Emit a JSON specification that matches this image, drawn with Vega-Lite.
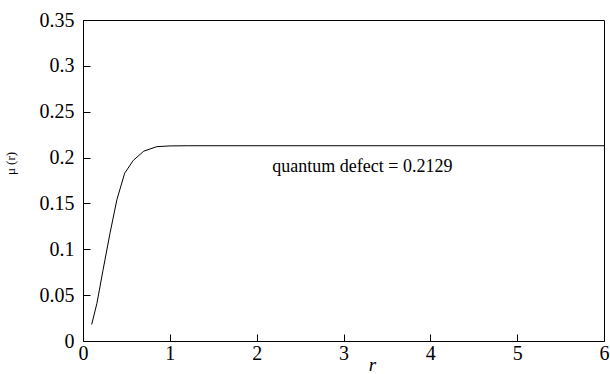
{
  "$schema": "https://vega.github.io/schema/vega-lite/v6.json",
  "width": 521,
  "height": 321,
  "autosize": {"type": "none"},
  "padding": {"left": 83, "top": 20, "right": 6, "bottom": 33},
  "background": "white",
  "config": {
    "view": {"stroke": "black", "strokeWidth": 1},
    "font": "Liberation Serif, Times New Roman, serif"
  },
  "layer": [
    {
      "data": {"values": [
        {"r": 0.1, "mu": 0.018},
        {"r": 0.16, "mu": 0.041},
        {"r": 0.23, "mu": 0.077},
        {"r": 0.31, "mu": 0.117},
        {"r": 0.39, "mu": 0.154},
        {"r": 0.48, "mu": 0.183},
        {"r": 0.58, "mu": 0.197},
        {"r": 0.7, "mu": 0.207},
        {"r": 0.85, "mu": 0.2119},
        {"r": 1.0, "mu": 0.2127},
        {"r": 1.2, "mu": 0.2129},
        {"r": 6.0, "mu": 0.2129}
      ]},
      "mark": {"type": "line", "color": "black", "strokeWidth": 1, "clip": true},
      "encoding": {
        "x": {"field": "r", "type": "quantitative",
          "scale": {"domain": [0, 6], "nice": false},
          "axis": {"title": "r", "titleFont": "Liberation Serif, Times New Roman, serif", "titleFontStyle": "italic", "titleFontWeight": "normal",
            "titleFontSize": 19, "titleColor": "black", "titleX": 289, "titleY": 29, "titleBaseline": "alphabetic",
            "values": [0, 1, 2, 3, 4, 5, 6], "format": "d", "grid": false,
            "domainColor": "black", "tickColor": "black", "tickSize": -7, "labelPadding": 9,
            "labelFontSize": 20, "labelColor": "black", "labelFont": "Liberation Serif, Times New Roman, serif", "labelFlush": false, "labelOverlap": false}},
        "y": {"field": "mu", "type": "quantitative",
          "scale": {"domain": [0, 0.35], "nice": false},
          "axis": {"title": "μ (r)", "titleFont": "Liberation Serif, Times New Roman, serif", "titleFontWeight": "normal", "titleFontSize": 13,
            "titleColor": "black", "titleX": -66, "titleY": 143,
            "values": [0, 0.05, 0.1, 0.15, 0.2, 0.25, 0.3, 0.35], "format": "~g", "grid": false,
            "domainColor": "black", "tickColor": "black", "tickSize": -7, "labelPadding": 16,
            "labelFontSize": 20, "labelColor": "black", "labelFont": "Liberation Serif, Times New Roman, serif", "labelFlush": false, "labelOverlap": false}}
      }
    },
    {
      "data": {"values": [{"r": 2.18, "mu": 0.1897, "label": "quantum defect = 0.2129"}]},
      "mark": {"type": "text", "align": "left", "baseline": "middle", "fontSize": 18, "font": "Liberation Serif, Times New Roman, serif", "color": "black"},
      "encoding": {
        "x": {"field": "r", "type": "quantitative"},
        "y": {"field": "mu", "type": "quantitative"},
        "text": {"field": "label"}
      }
    }
  ]
}
